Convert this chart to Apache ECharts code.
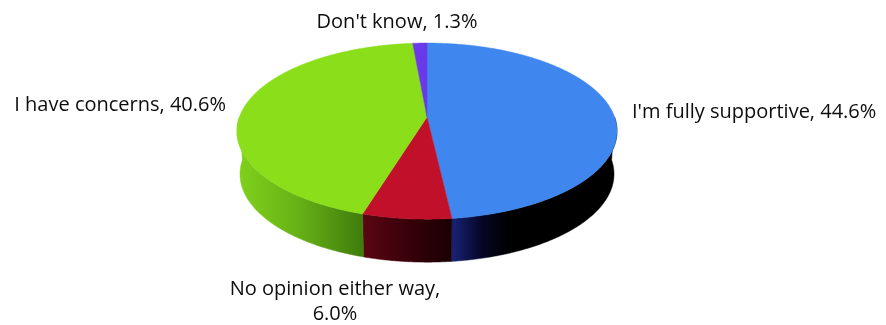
<!DOCTYPE html>
<html><head><meta charset="utf-8">
<script src="https://cdn.jsdelivr.net/npm/echarts@6/dist/echarts.min.js"></script>
<style>html,body{margin:0;padding:0;background:#fff}#c{width:886px;height:325px}</style>
</head><body><div id="c"></div>
<script>
const categories = ["I'm fully supportive", "No opinion either way", "I have concerns", "Don't know"];
const values = [44.6, 6.0, 40.6, 1.3];
const labelTexts = ["I'm fully supportive, 44.6%", "No opinion either way,\n6.0%", "I have concerns, 40.6%", "Don't know, 1.3%"];

const topColors = ['#3f87ee', '#c0102a', '#8ade1a', '#6a3aea'];
const wallStops = [
  [[0, '#18247a'], [0.18, '#060626'], [0.35, '#000000'], [1, '#000000']],
  [[0, '#5a0612'], [0.6, '#330008'], [1, '#1a0004']],
  [[0, '#80d21c'], [0.5, '#66b016'], [1, '#3e7c0c']],
  [[0, '#3a20a0'], [1, '#20105a']]
];
// geometry (layout): perspective-projected tilted disc
const G = {cx: 427, cy: 117, sx: 187.6, sy: 85.8, p: 0.16, h: 43, bScale: 0.984};
const labelPos = [
  {x: 632, y: 112, align: 'left'},
  {x: 335, y: 302, align: 'center'},
  {x: 226, y: 105, align: 'right'},
  {x: 397, y: 22, align: 'center'}
];

const total = values.reduce((a, b) => a + b, 0);
const starts = [];
let acc = 0;
values.forEach(v => { starts.push(acc / total * 360); acc += v; });
function proj(deg, bottom) {
  const r = deg * Math.PI / 180;
  const X = Math.sin(r), Z = Math.cos(r);
  const d = 1 + G.p * Z;
  let x = G.sx * X / d, y = -G.sy * Z / d;
  if (bottom) { x *= G.bScale; y += G.h; }
  return [G.cx + x, G.cy + y];
}
function topItem(params, api) {
  const i = params.dataIndex;
  const a0 = starts[i], a1 = a0 + api.value(0) / total * 360;
  const pts = [[G.cx, G.cy]];
  const n = Math.max(2, Math.ceil((a1 - a0) / 0.5));
  for (let k = 0; k <= n; k++) pts.push(proj(a0 + (a1 - a0) * k / n, false));
  const lp = labelPos[i];
  return {type: 'group', children: [
    {type: 'polygon', shape: {points: pts}, style: {fill: topColors[i], stroke: topColors[i], lineWidth: 0.5}},
    {type: 'text', x: lp.x, y: lp.y, style: {text: labelTexts[i], fill: '#0d0d0d', font: '20px "Open Sans"', align: lp.align, verticalAlign: 'middle', lineHeight: 25}}
  ]};
}
function wallItem(params, api) {
  const i = params.dataIndex;
  let a0 = starts[i], a1 = a0 + api.value(0) / total * 360;
  a0 = Math.max(a0, 90); a1 = Math.min(a1, 270);
  if (a1 <= a0) return {type: 'group', children: []};
  const n = Math.max(2, Math.ceil((a1 - a0) / 0.5));
  const pts = [];
  for (let k = 0; k <= n; k++) pts.push(proj(a0 + (a1 - a0) * k / n, false));
  for (let k = n; k >= 0; k--) pts.push(proj(a0 + (a1 - a0) * k / n, true));
  const grad = {type: 'linear', x: 0, y: 0, x2: 1, y2: 0, colorStops: wallStops[i].map(s => ({offset: s[0], color: s[1]}))};
  return {type: 'polygon', shape: {points: pts}, style: {fill: grad, stroke: grad, lineWidth: 0.5}};
}
const data = values.map((v, i) => ({name: categories[i], value: v}));
const chart = echarts.init(document.getElementById('c'), null, {renderer: 'canvas'});
chart.setOption({
  animation: false,
  backgroundColor: '#fff',
  series: [
    {type: 'custom', coordinateSystem: 'none', renderItem: wallItem, data: data, z: 1, silent: true},
    {type: 'custom', coordinateSystem: 'none', renderItem: topItem, data: data, z: 2, silent: true}
  ]
});
</script></body></html>
